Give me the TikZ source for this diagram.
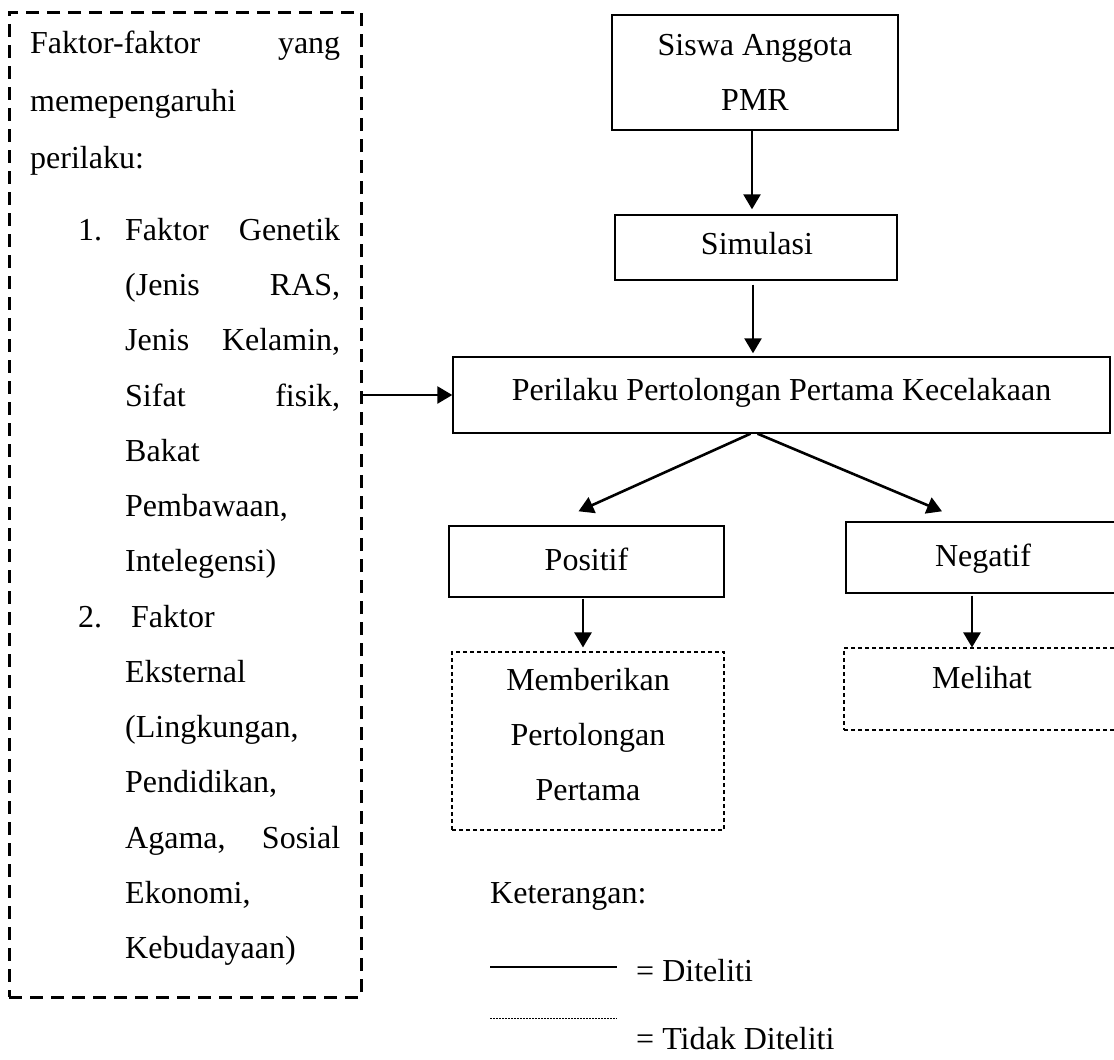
\documentclass[tikz,border=0pt]{standalone}
\usepackage{fontspec}
\setmainfont{Liberation Serif}
\usetikzlibrary{arrows.meta}

\begin{document}
\begin{tikzpicture}[x=1pt,y=-1pt,
  every node/.style={font=\fontsize{32}{38}\selectfont, inner sep=0pt},
  solidbox/.style={draw, line width=1.4pt},
  openbox/.style={draw, line width=1.1pt, dash pattern=on 4pt off 3pt},
  factorbox/.style={draw, line width=3pt, dash pattern=on 13pt off 8pt},
  arr/.style={line width=2.6pt, -{Triangle[length=15pt,width=17pt]}},
  txt/.style={anchor=base west},
  ctxt/.style={anchor=base}
]
\useasboundingbox (0,0) rectangle (1114,1060);
\clip (0,0) rectangle (1114,1060);

% factor list on the left
\node[factorbox, minimum width=352pt, minimum height=985pt] (fac) at (185,504.5) {};
\node[txt] (f1) at (30,53)  {\makebox[310pt][l]{Faktor-faktor\hfill yang}};
\node[txt] (f2) at (30,111) {memepengaruhi};
\node[txt] (f3) at (30,168) {perilaku:};
\node[txt] (n1) at (78,240) {1.};
\node[txt] (g1) at (125,240) {\makebox[215pt][l]{Faktor\hfill Genetik}};
\node[txt] (g2) at (125,295) {\makebox[215pt][l]{(Jenis\hfill RAS,}};
\node[txt] (g3) at (125,350) {\makebox[215pt][l]{Jenis\hfill Kelamin,}};
\node[txt] (g4) at (125,406) {\makebox[215pt][l]{Sifat\hfill fisik,}};
\node[txt] (g5) at (125,461) {Bakat};
\node[txt] (g6) at (125,516) {Pembawaan,};
\node[txt] (g7) at (125,571) {Intelegensi)};
\node[txt] (n2) at (78,627) {2.};
\node[txt] (e1) at (131,627) {Faktor};
\node[txt] (e2) at (125,682) {Eksternal};
\node[txt] (e3) at (125,737) {(Lingkungan,};
\node[txt] (e4) at (125,792) {Pendidikan,};
\node[txt] (e5) at (125,848) {\makebox[215pt][l]{Agama,\hfill Sosial}};
\node[txt] (e6) at (125,903) {Ekonomi,};
\node[txt] (e7) at (125,958) {Kebudayaan)};

% flow boxes
\node[solidbox, minimum width=286pt, minimum height=115pt] (siswa) at (755,72.5) {};
\node[ctxt] (siswaA) at (755,55)  {Siswa Anggota};
\node[ctxt] (siswaB) at (755,110) {PMR};

\node[solidbox, minimum width=282pt, minimum height=65pt] (sim) at (756,247.5) {};
\node[ctxt] (simT) at (757,254) {Simulasi};

\node[solidbox, minimum width=657pt, minimum height=76pt] (peri) at (781.5,395) {};
\node[ctxt] (periT) at (781.5,400) {Perilaku Pertolongan Pertama Kecelakaan};

\node[solidbox, minimum width=275pt, minimum height=71pt] (pos) at (586.5,561.5) {};
\node[ctxt] (posT) at (586.5,570) {Positif};

\node[solidbox, minimum width=274pt, minimum height=71pt] (neg) at (983,557.5) {};
\node[ctxt] (negT) at (983,566) {Negatif};

\node[openbox, minimum width=272pt, minimum height=178pt] (mem) at (588,741) {};
\node[ctxt] (memA) at (588,690) {Memberikan};
\node[ctxt] (memB) at (588,745) {Pertolongan};
\node[ctxt] (memC) at (588,800) {Pertama};

\node[openbox, minimum width=276pt, minimum height=82pt] (mel) at (982,689) {};
\node[ctxt] (melT) at (982,688) {Melihat};

% connectors
\draw[arr] ([xshift=-3pt]siswa.south) -- ([xshift=-3pt,yshift=5pt]sim.north -| siswa.south);
\draw[arr] ([xshift=-3pt,yshift=-4pt]sim.south) -- ([xshift=-3pt,yshift=3pt]peri.north -| sim.south);
\draw[arr] (peri.west -| fac.east) -- (peri.west);
\draw[arr] ([xshift=-31pt]peri.south) -- ([xshift=-8pt,yshift=14pt]pos.north);
\draw[arr] ([xshift=-24pt]peri.south) -- ([xshift=-41pt,yshift=10pt]neg.north);
\draw[arr] ([xshift=-3.5pt,yshift=-1pt]pos.south) -- ([xshift=-5pt,yshift=4pt]mem.north);
\draw[arr] ([xshift=-11pt,yshift=-2pt]neg.south) -- ([xshift=-10pt]mel.north);

% legend
\node[txt] (ket) at (490,903) {Keterangan:};
\coordinate (s1) at (490,967);
\coordinate (s2) at (617,967);
\draw[line width=1.2pt] (s1) -- (s2);
\node[txt] (dit) at (636,981) {= Diteliti};
\coordinate (d1) at (490,1018);
\coordinate (d2) at (617,1018);
\draw[line width=0.9pt, dash pattern=on 2pt off 1pt] (d1) -- (d2);
\node[txt] (tdit) at (636,1049) {= Tidak Diteliti};
\end{tikzpicture}
\end{document}
